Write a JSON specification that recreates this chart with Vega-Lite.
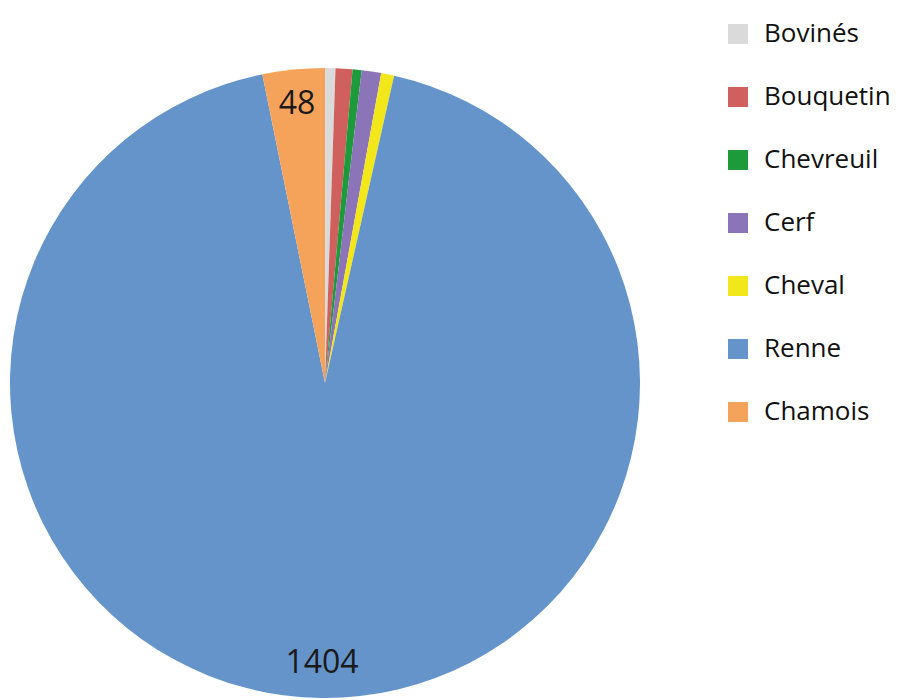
{
  "$schema": "https://vega.github.io/schema/vega-lite/v6.json",
  "width": 634,
  "height": 634,
  "autosize": "none",
  "padding": {"left": 8, "top": 66, "right": 266, "bottom": 0},
  "background": "white",
  "data": {
    "values": [
      {"espece": "Bovinés", "n": 8, "ordre": 1},
      {"espece": "Bouquetin", "n": 13, "ordre": 2},
      {"espece": "Chevreuil", "n": 7, "ordre": 3},
      {"espece": "Cerf", "n": 15, "ordre": 4},
      {"espece": "Cheval", "n": 10, "ordre": 5},
      {"espece": "Renne", "n": 1404, "ordre": 6},
      {"espece": "Chamois", "n": 48, "ordre": 7}
    ]
  },
  "encoding": {
    "theta": {"field": "n", "type": "quantitative", "stack": true},
    "order": {"field": "ordre", "type": "quantitative"}
  },
  "layer": [
    {
      "mark": {"type": "arc", "outerRadius": 315},
      "encoding": {
        "color": {
          "field": "espece",
          "type": "nominal",
          "scale": {
            "domain": ["Bovinés", "Bouquetin", "Chevreuil", "Cerf", "Cheval", "Renne", "Chamois"],
            "range": ["#dadada", "#cf605d", "#1d9a3a", "#8b74b7", "#f1e71b", "#6494c9", "#f5a35a"]
          },
          "legend": {
            "title": null,
            "orient": "none",
            "legendX": 717,
            "legendY": -45,
            "symbolType": "square",
            "symbolSize": 400,
            "symbolStrokeWidth": 0,
            "labelFont": "Open Sans",
            "labelFontSize": 26,
            "labelColor": "#111111",
            "labelOffset": 13,
            "rowPadding": 37,
            "labelLimit": 300
          }
        }
      }
    },
    {
      "mark": {"type": "text", "radius": 280, "fontSize": 32, "font": "Open Sans", "color": "#1a1a1a"},
      "encoding": {
        "text": {
          "condition": {"test": "datum.n >= 48", "field": "n", "type": "quantitative"},
          "value": ""
        }
      }
    }
  ],
  "config": {"view": {"stroke": null}}
}
